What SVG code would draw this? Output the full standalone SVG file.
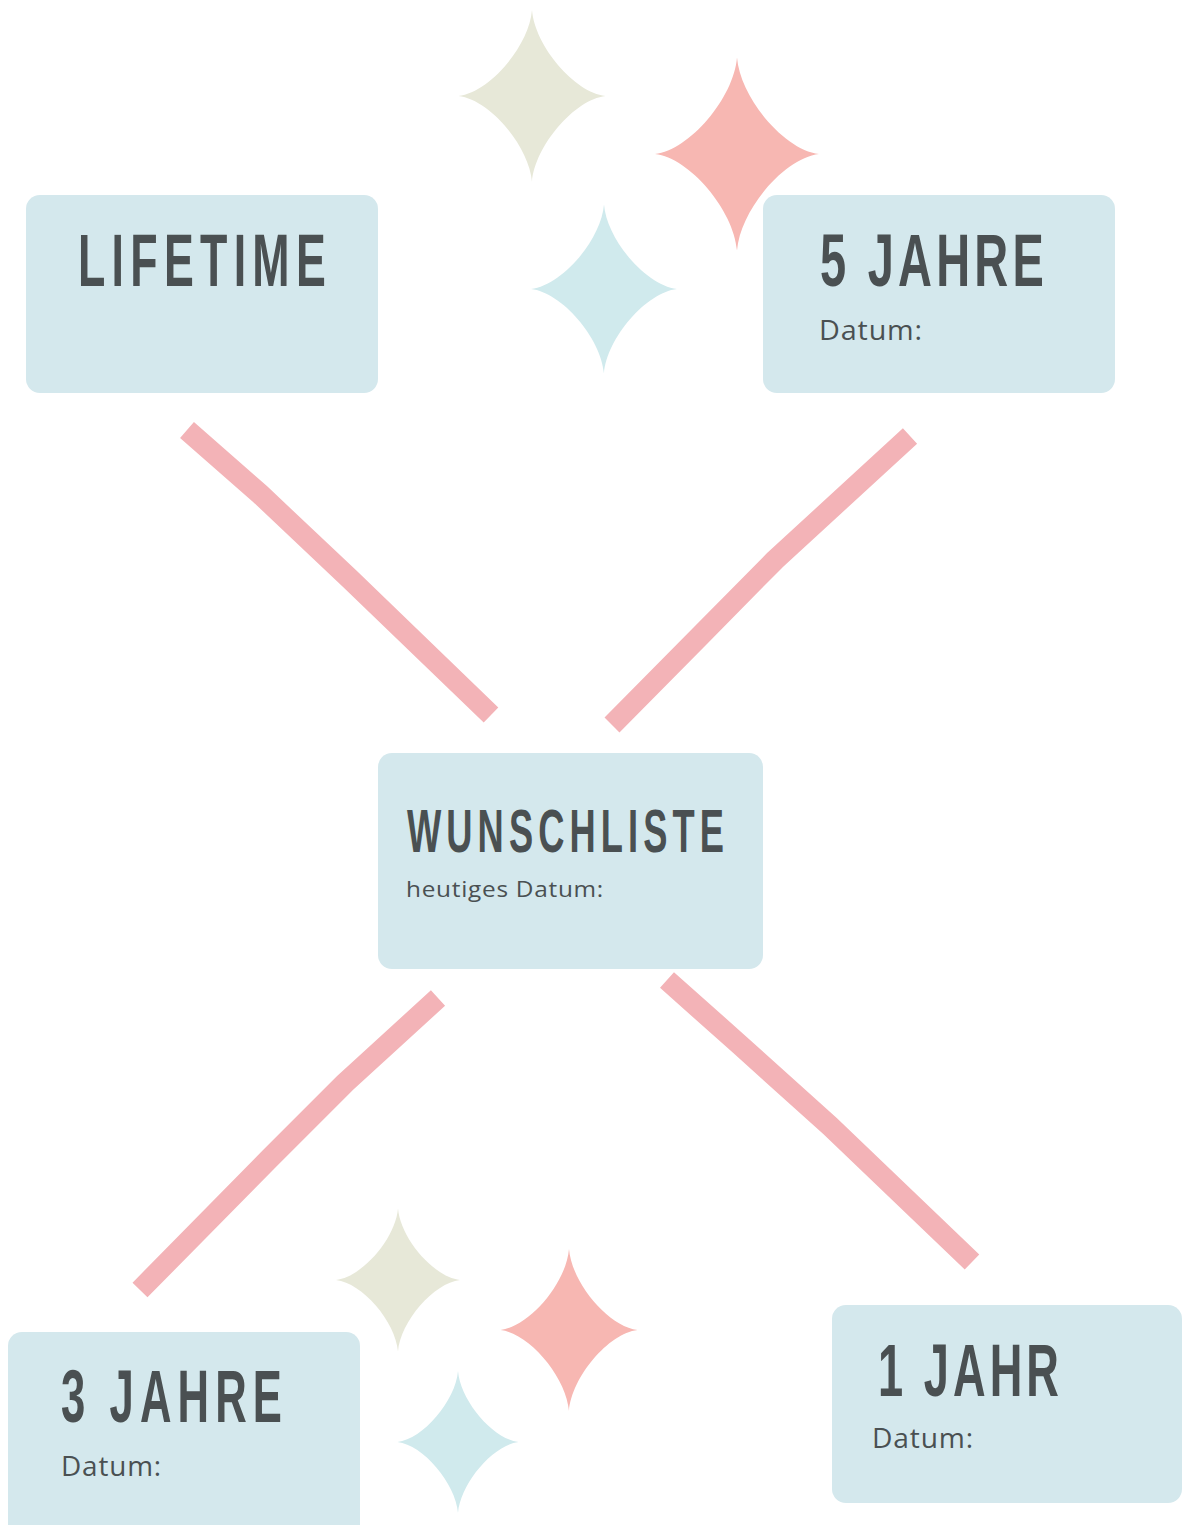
<svg xmlns="http://www.w3.org/2000/svg" width="1182" height="1525" viewBox="0 0 1182 1525">
<style>
.box{fill:#d4e8ed}
.title{font-family:"Liberation Sans",Arial,sans-serif;font-weight:bold;fill:#4a5052;letter-spacing:0.14em}
.tight{letter-spacing:0.09em}
.sub{font-family:"Open Sans","Noto Sans",sans-serif;fill:#4a5052;letter-spacing:0.03em}
.conn{fill:none;stroke:#f3b3b7;stroke-width:21;stroke-linecap:butt;stroke-linejoin:round}
</style>
<defs>
<path id="star" d="M0,-100 C4,-58 58,-4 100,0 C58,4 4,58 0,100 C-4,58 -58,4 -100,0 C-58,-4 -4,-58 0,-100 Z"/>
</defs>
<rect width="1182" height="1525" fill="#ffffff"/>
<g id="stars">
<use href="#star" fill="#e7e8d8" transform="translate(532,96) scale(0.735,0.86)"/>
<use href="#star" fill="#f7b7b2" transform="translate(737,154) scale(0.82,0.965)"/>
<use href="#star" fill="#d0eaed" transform="translate(604,289) scale(0.73,0.845)"/>
<use href="#star" fill="#e7e8d8" transform="translate(398,1280) scale(0.62,0.715)"/>
<use href="#star" fill="#f7b7b2" transform="translate(569,1330) scale(0.685,0.81)"/>
<use href="#star" fill="#d0eaed" transform="translate(458,1442) scale(0.605,0.71)"/>
</g>
<g id="connectors">
<path class="conn" d="M187,430 L260,494 L350,579 L491,715"/>
<path class="conn" d="M910,436 L775,560 L700,636 L612,725"/>
<path class="conn" d="M438,998 L345,1083 L270,1158 L140,1290"/>
<path class="conn" d="M667,980 L740,1045 L830,1126 L972,1262"/>
</g>
<g id="node-lifetime">
<rect class="box" x="26" y="195" width="352" height="198" rx="14"/>
<text class="title" x="78" y="286" font-size="74" textLength="254" lengthAdjust="spacingAndGlyphs">LIFETIME</text>
</g>
<g id="node-5jahre">
<rect class="box" x="763" y="195" width="352" height="198" rx="14"/>
<text class="title tight" x="820" y="286" font-size="74" textLength="228" lengthAdjust="spacingAndGlyphs">5 JAHRE</text>
<text class="sub" x="819" y="340" font-size="27" textLength="104" lengthAdjust="spacingAndGlyphs">Datum:</text>
</g>
<g id="node-wunschliste">
<rect class="box" x="378" y="753" width="385" height="216" rx="14"/>
<text class="title" x="407" y="852" font-size="61" textLength="322" lengthAdjust="spacingAndGlyphs">WUNSCHLISTE</text>
<text class="sub" x="406" y="897" font-size="22" textLength="198" lengthAdjust="spacingAndGlyphs">heutiges Datum:</text>
</g>
<g id="node-3jahre">
<rect class="box" x="8" y="1332" width="352" height="215" rx="14"/>
<text class="title" x="61" y="1422" font-size="75" textLength="227" lengthAdjust="spacingAndGlyphs">3 JAHRE</text>
<text class="sub" x="61" y="1476" font-size="27" textLength="101" lengthAdjust="spacingAndGlyphs">Datum:</text>
</g>
<g id="node-1jahr">
<rect class="box" x="832" y="1305" width="350" height="198" rx="14"/>
<text class="title tight" x="878" y="1396" font-size="74" textLength="185" lengthAdjust="spacingAndGlyphs">1 JAHR</text>
<text class="sub" x="872" y="1448" font-size="27" textLength="102" lengthAdjust="spacingAndGlyphs">Datum:</text>
</g>
</svg>
